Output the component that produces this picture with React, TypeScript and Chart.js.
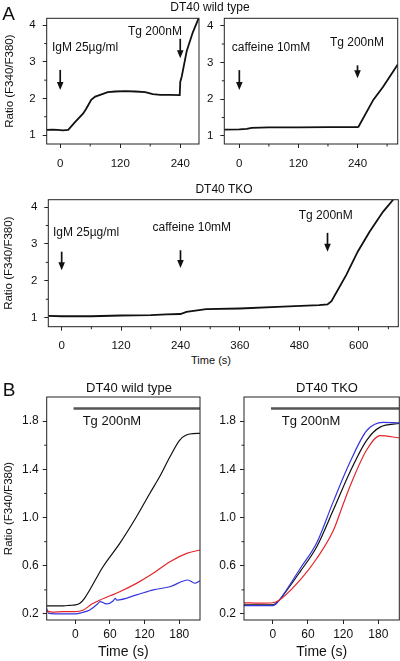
import React, { useEffect, useRef } from "react";
import { Chart, registerables } from "chart.js";

Chart.register(...registerables);

const FONT = '"Liberation Sans", Arial, Helvetica, sans-serif';

// ---------- Panel A, DT40 wild type, IgM then Tg ----------
const A1_T = [-27, -15, -5, 5, 16, 30, 46, 52, 62, 70, 80, 95, 110, 130, 150, 170, 185, 200, 220, 239, 240, 243, 253, 265, 277, 285];
const A1_V = [1.14, 1.15, 1.14, 1.13, 1.14, 1.36, 1.59, 1.72, 1.96, 2.05, 2.1, 2.17, 2.19, 2.2, 2.19, 2.17, 2.12, 2.1, 2.1, 2.09, 2.45, 2.6, 3.3, 3.8, 4.2, 4.45];
const A1_ARROW_T = [0, 240];
const A1_ARROW_FROM = [2.78, 3.63];
const A1_ARROW_TO = [2.23, 3.1];
const A1_LABELS = ["IgM 25µg/ml", "Tg 200nM"];
const A1_LABEL_T = [-16.6, 135.4];
const A1_LABEL_Y = [3.4, 3.82];

// ---------- Panel A, DT40 wild type, caffeine then Tg ----------
const A2_T = [-31, 0, 15, 25, 60, 120, 180, 240, 242, 272, 292, 322];
const A2_V = [1.17, 1.18, 1.19, 1.22, 1.23, 1.23, 1.24, 1.24, 1.25, 1.98, 2.34, 2.95];
const A2_ARROW_T = [0, 240];
const A2_ARROW_FROM = [2.79, 2.92];
const A2_ARROW_TO = [2.25, 2.57];
const A2_LABELS = ["caffeine 10mM", "Tg 200nM"];
const A2_LABEL_T = [-15.4, 184];
const A2_LABEL_Y = [3.41, 3.55];

// ---------- Panel A, DT40 TKO ----------
const A3_T = [-27, 0, 60, 120, 180, 212, 240, 252, 292, 360, 447, 520, 537, 545, 575, 598, 622, 649, 669, 685];
const A3_V = [1.05, 1.04, 1.04, 1.06, 1.07, 1.09, 1.1, 1.16, 1.23, 1.25, 1.3, 1.34, 1.36, 1.45, 2.16, 2.79, 3.33, 3.87, 4.19, 4.5];
const A3_ARROW_T = [0, 240, 537];
const A3_ARROW_FROM = [2.79, 2.83, 3.3];
const A3_ARROW_TO = [2.29, 2.35, 2.79];
const A3_LABELS = ["IgM 25µg/ml", "caffeine 10mM", "Tg 200nM"];
const A3_LABEL_T = [-17.6, 183.6, 478.8];
const A3_LABEL_Y = [3.3, 3.43, 3.76];

const A_Y_TICKS = [1, 2, 3, 4];
const A_Y_MINOR = [1.5, 2.5, 3.5];
const A12_X_TICKS = [0, 120, 240];
const A12_X_MINOR = [60, 180, 300];
const A3_X_TICKS = [0, 120, 240, 360, 480, 600];
const A3_X_MINOR = [60, 180, 300, 420, 540, 660];

// ---------- Panel B, DT40 wild type ----------
const B1_BLACK_T = [-50, -20, -9, 0, 8, 16, 25, 48, 77, 106, 129, 146, 164, 181, 198, 216];
const B1_BLACK_V = [0.268, 0.268, 0.272, 0.275, 0.289, 0.33, 0.399, 0.592, 0.786, 1.007, 1.2, 1.338, 1.504, 1.643, 1.693, 1.698];
const B1_RED_T = [-50, -40, -20, 0, 14, 28, 43, 77, 106, 135, 164, 193, 216];
const B1_RED_V = [0.225, 0.215, 0.22, 0.22, 0.233, 0.28, 0.316, 0.385, 0.454, 0.537, 0.634, 0.703, 0.731];
const B1_BLUE_T = [-50, -46, -20, 0, 12, 25, 38, 43, 54, 66, 69, 72, 106, 135, 164, 195, 207, 216];
const B1_BLUE_V = [0.25, 0.205, 0.2, 0.2, 0.212, 0.233, 0.28, 0.302, 0.283, 0.31, 0.33, 0.315, 0.358, 0.4, 0.426, 0.482, 0.455, 0.476];

// ---------- Panel B, DT40 TKO ----------
const B2_BLACK_T = [-50, 0, 8, 18, 46.5, 75, 103, 131.7, 160, 183, 216];
const B2_BLACK_V = [0.275, 0.275, 0.3, 0.357, 0.55, 0.757, 1.06, 1.378, 1.64, 1.75, 1.78];
const B2_BLUE_T = [-50, 0, 8, 18, 46.5, 75, 103, 131.7, 160, 188, 216];
const B2_BLUE_V = [0.27, 0.27, 0.295, 0.36, 0.575, 0.79, 1.13, 1.46, 1.72, 1.79, 1.785];
const B2_RED_T = [-50, -20, 0, 8, 18, 46.5, 75, 103, 120, 131.7, 160, 183, 216];
const B2_RED_V = [0.293, 0.29, 0.293, 0.305, 0.34, 0.48, 0.66, 0.89, 1.11, 1.26, 1.56, 1.68, 1.66];

const B_TG_T = [-3, 216];
const B_TG_V = [1.905, 1.905];
const B_LABELS = ["Tg 200nM"];
const B1_LABEL_T = [12.8];
const B2_LABEL_T = [15.3];
const B_LABEL_Y = [1.795];

const B_Y_TICKS = [0.2, 0.6, 1.0, 1.4, 1.8];
const B_Y_MINOR = [0.4, 0.8, 1.2, 1.6];
const B_X_TICKS = [0, 60, 120, 180];

const zip = (xs: number[], ys: number[]) => xs.map((x, i) => ({ x, y: ys[i] }));

interface Series { t: number[]; v: number[]; color: string; width: number; smooth: boolean; }
interface Panel {
  canvas: { left: number; top: number; width: number; height: number };
  area: { left: number; top: number; right: number; bottom: number };
  xMin: number; xMax: number; yMin: number; yMax: number;
  xTicks: number[]; xMinor: number[]; yTicks: number[]; yMinor: number[];
  yFmt: (v: number) => string;
  tickFont: number; yPad: number; xPad: number;
  yTitle?: string; yTitlePad?: number;
  xTitle?: string; xTitleFont?: number;
  series: Series[];
  arrowT: number[]; arrowFrom: number[]; arrowTo: number[];
  labels: string[]; labelT: number[]; labelY: number[]; labelFont: number;
}

const fmtInt = (v: number) => String(Math.round(v));
const fmt1 = (v: number) => v.toFixed(1);

const PANELS: Panel[] = [
  {
    canvas: { left: 0, top: 0, width: 205, height: 175 },
    area: { left: 46.7, top: 18.3, right: 199, bottom: 144 },
    xMin: -27, xMax: 277.5, yMin: 0.755, yMax: 4.19,
    xTicks: A12_X_TICKS, xMinor: A12_X_MINOR, yTicks: A_Y_TICKS, yMinor: A_Y_MINOR,
    yFmt: fmtInt, tickFont: 11.5, yPad: 7, xPad: 8.5,
    yTitle: "Ratio (F340/F380)", yTitlePad: 3,
    series: [{ t: A1_T, v: A1_V, color: "#111", width: 1.8, smooth: false }],
    arrowT: A1_ARROW_T, arrowFrom: A1_ARROW_FROM, arrowTo: A1_ARROW_TO,
    labels: A1_LABELS, labelT: A1_LABEL_T, labelY: A1_LABEL_Y, labelFont: 12,
  },
  {
    canvas: { left: 205, top: 0, width: 195, height: 175 },
    area: { left: 224.3, top: 18.3, right: 397.7, bottom: 144 },
    xMin: -30.5, xMax: 321.6, yMin: 0.78, yMax: 4.2,
    xTicks: A12_X_TICKS, xMinor: A12_X_MINOR, yTicks: A_Y_TICKS, yMinor: A_Y_MINOR,
    yFmt: fmtInt, tickFont: 11.5, yPad: 7, xPad: 8.5,
    series: [{ t: A2_T, v: A2_V, color: "#111", width: 1.8, smooth: false }],
    arrowT: A2_ARROW_T, arrowFrom: A2_ARROW_FROM, arrowTo: A2_ARROW_TO,
    labels: A2_LABELS, labelT: A2_LABEL_T, labelY: A2_LABEL_Y, labelFont: 12,
  },
  {
    canvas: { left: 0, top: 180, width: 400, height: 170 },
    area: { left: 48.3, top: 199.7, right: 398.3, bottom: 326.7 },
    xMin: -27, xMax: 680, yMin: 0.756, yMax: 4.2,
    xTicks: A3_X_TICKS, xMinor: A3_X_MINOR, yTicks: A_Y_TICKS, yMinor: A_Y_MINOR,
    yFmt: fmtInt, tickFont: 11.5, yPad: 7, xPad: 8.5,
    yTitle: "Ratio (F340/F380)", yTitlePad: 1.5,
    series: [{ t: A3_T, v: A3_V, color: "#111", width: 1.8, smooth: false }],
    arrowT: A3_ARROW_T, arrowFrom: A3_ARROW_FROM, arrowTo: A3_ARROW_TO,
    labels: A3_LABELS, labelT: A3_LABEL_T, labelY: A3_LABEL_Y, labelFont: 12,
  },
  {
    canvas: { left: 0, top: 380, width: 210, height: 281 },
    area: { left: 46.7, top: 397, right: 200, bottom: 620 },
    xMin: -49.5, xMax: 216, yMin: 0.15, yMax: 2.0,
    xTicks: B_X_TICKS, xMinor: [], yTicks: B_Y_TICKS, yMinor: B_Y_MINOR,
    yFmt: fmt1, tickFont: 12, yPad: 4, xPad: 3,
    yTitle: "Ratio (F340/F380)", yTitlePad: 2,
    xTitle: "Time (s)", xTitleFont: 14,
    series: [
      { t: B_TG_T, v: B_TG_V, color: "#555", width: 2.5, smooth: false },
      { t: B1_BLACK_T, v: B1_BLACK_V, color: "#111", width: 1.2, smooth: true },
      { t: B1_RED_T, v: B1_RED_V, color: "#e3262b", width: 1.2, smooth: true },
      { t: B1_BLUE_T, v: B1_BLUE_V, color: "#3535e0", width: 1.2, smooth: true },
    ],
    arrowT: [], arrowFrom: [], arrowTo: [],
    labels: B_LABELS, labelT: B1_LABEL_T, labelY: B_LABEL_Y, labelFont: 13,
  },
  {
    canvas: { left: 210, top: 380, width: 190, height: 281 },
    area: { left: 244, top: 397, right: 399.3, bottom: 620 },
    xMin: -49, xMax: 215.7, yMin: 0.15, yMax: 2.0,
    xTicks: B_X_TICKS, xMinor: [], yTicks: B_Y_TICKS, yMinor: B_Y_MINOR,
    yFmt: fmt1, tickFont: 12, yPad: 4, xPad: 3,
    xTitle: "Time (s)", xTitleFont: 14,
    series: [
      { t: B_TG_T, v: B_TG_V, color: "#555", width: 2.5, smooth: false },
      { t: B2_RED_T, v: B2_RED_V, color: "#e3262b", width: 1.2, smooth: true },
      { t: B2_BLUE_T, v: B2_BLUE_V, color: "#3535e0", width: 1.2, smooth: true },
      { t: B2_BLACK_T, v: B2_BLACK_V, color: "#111", width: 1.2, smooth: true },
    ],
    arrowT: [], arrowFrom: [], arrowTo: [],
    labels: B_LABELS, labelT: B2_LABEL_T, labelY: B_LABEL_Y, labelFont: 13,
  },
];

function buildChart(canvas: HTMLCanvasElement, p: Panel): Chart {
  const yW = p.area.left - p.canvas.left;
  const padTop = p.area.top - p.canvas.top;
  const padRight = p.canvas.left + p.canvas.width - p.area.right;
  const xH = p.canvas.top + p.canvas.height - p.area.bottom;

  const decor = {
    id: "decor",
    afterDraw(chart: any) {
      const { ctx, chartArea } = chart;
      const xs = chart.scales.x;
      const ys = chart.scales.y;
      ctx.save();
      ctx.strokeStyle = "#222";
      ctx.lineWidth = 1;
      ctx.strokeRect(chartArea.left, chartArea.top, chartArea.right - chartArea.left, chartArea.bottom - chartArea.top);
      ctx.beginPath();
      p.xMinor.forEach((v) => {
        const px = xs.getPixelForValue(v);
        ctx.moveTo(px, chartArea.bottom);
        ctx.lineTo(px, chartArea.bottom + 2.5);
      });
      p.yMinor.forEach((v) => {
        const py = ys.getPixelForValue(v);
        ctx.moveTo(chartArea.left, py);
        ctx.lineTo(chartArea.left - 2.5, py);
      });
      ctx.stroke();
      // arrows
      ctx.fillStyle = "#111";
      ctx.strokeStyle = "#111";
      p.arrowT.forEach((t, i) => {
        const px = xs.getPixelForValue(t);
        const y0 = ys.getPixelForValue(p.arrowFrom[i]);
        const y1 = ys.getPixelForValue(p.arrowTo[i]);
        ctx.lineWidth = 1.7;
        ctx.beginPath();
        ctx.moveTo(px, y0);
        ctx.lineTo(px, y1 - 6);
        ctx.stroke();
        ctx.beginPath();
        ctx.moveTo(px - 3.3, y1 - 8);
        ctx.lineTo(px + 3.3, y1 - 8);
        ctx.lineTo(px, y1);
        ctx.closePath();
        ctx.fill();
      });
      // labels
      ctx.font = `${p.labelFont}px ${FONT}`;
      ctx.textAlign = "left";
      ctx.textBaseline = "middle";
      ctx.fillStyle = "#111";
      p.labels.forEach((s, i) => {
        ctx.fillText(s, xs.getPixelForValue(p.labelT[i]), ys.getPixelForValue(p.labelY[i]));
      });
      ctx.restore();
    },
  };

  return new Chart(canvas, {
    type: "line",
    data: {
      datasets: p.series.map((s) => ({
        data: zip(s.t, s.v),
        borderColor: s.color,
        borderWidth: s.width,
        pointRadius: 0,
        fill: false,
        tension: s.smooth ? 0.4 : 0,
        cubicInterpolationMode: s.smooth ? "monotone" : "default",
      })),
    },
    options: {
      animation: false,
      responsive: false,
      devicePixelRatio: 1,
      events: [],
      layout: { padding: { left: 0, top: padTop, right: padRight, bottom: 0 } },
      plugins: { legend: { display: false }, tooltip: { enabled: false }, title: { display: false } },
      scales: {
        x: {
          type: "linear",
          min: p.xMin,
          max: p.xMax,
          afterBuildTicks: (s: any) => { s.ticks = p.xTicks.map((v) => ({ value: v })); },
          afterFit: (s: any) => { s.height = xH; },
          ticks: {
            font: { family: FONT, size: p.tickFont },
            color: "#111",
            padding: p.xPad,
            maxRotation: 0,
            autoSkip: false,
            callback: (v: any) => fmtInt(Number(v)),
          },
          grid: { drawOnChartArea: false, drawTicks: true, tickLength: 4, tickColor: "#222" },
          border: { display: false },
          title: p.xTitle
            ? { display: true, text: p.xTitle, color: "#111", font: { family: FONT, size: p.xTitleFont }, padding: { top: 0, bottom: 0 } }
            : { display: false },
        },
        y: {
          type: "linear",
          min: p.yMin,
          max: p.yMax,
          afterBuildTicks: (s: any) => { s.ticks = p.yTicks.map((v) => ({ value: v })); },
          afterFit: (s: any) => { s.width = yW; },
          ticks: {
            font: { family: FONT, size: p.tickFont },
            color: "#111",
            padding: p.yPad,
            autoSkip: false,
            callback: (v: any) => p.yFmt(Number(v)),
          },
          grid: { drawOnChartArea: false, drawTicks: true, tickLength: 4, tickColor: "#222" },
          border: { display: false },
          title: p.yTitle
            ? { display: true, text: p.yTitle, color: "#111", font: { family: FONT, size: 11.5 }, padding: { top: p.yTitlePad ?? 2, bottom: 0 } }
            : { display: false },
        },
      },
    } as any,
    plugins: [decor],
  });
}

const TEXTS = [
  { text: "A", x: 8.5, y: 13.5, size: 19 },
  { text: "DT40 wild type", x: 210, y: 8, size: 12 },
  { text: "DT40 TKO", x: 224, y: 190, size: 12 },
  { text: "Time (s)", x: 211, y: 360, size: 11 },
  { text: "B", x: 9, y: 390, size: 19 },
  { text: "DT40 wild type", x: 129, y: 388, size: 13 },
  { text: "DT40 TKO", x: 327, y: 388, size: 13 },
];

export default function App() {
  const refs = useRef<(HTMLCanvasElement | null)[]>([]);
  useEffect(() => {
    document.body.style.margin = "0";
    const charts = PANELS.map((p, i) => buildChart(refs.current[i] as HTMLCanvasElement, p));
    return () => charts.forEach((c) => c.destroy());
  }, []);
  return (
    <div style={{ position: "fixed", left: 0, top: 0, width: 400, height: 661, background: "#fff", overflow: "hidden", fontFamily: FONT }}>
      {PANELS.map((p, i) => (
        <canvas
          key={i}
          ref={(el) => { refs.current[i] = el; }}
          width={p.canvas.width}
          height={p.canvas.height}
          style={{ position: "absolute", left: p.canvas.left, top: p.canvas.top, width: p.canvas.width, height: p.canvas.height }}
        />
      ))}
      {TEXTS.map((t, i) => (
        <div
          key={"t" + i}
          style={{
            position: "absolute",
            left: t.x,
            top: t.y,
            transform: "translate(-50%, -50%)",
            fontSize: t.size,
            lineHeight: 1.15,
            color: "#111",
            whiteSpace: "nowrap",
          }}
        >
          {t.text}
        </div>
      ))}
    </div>
  );
}
